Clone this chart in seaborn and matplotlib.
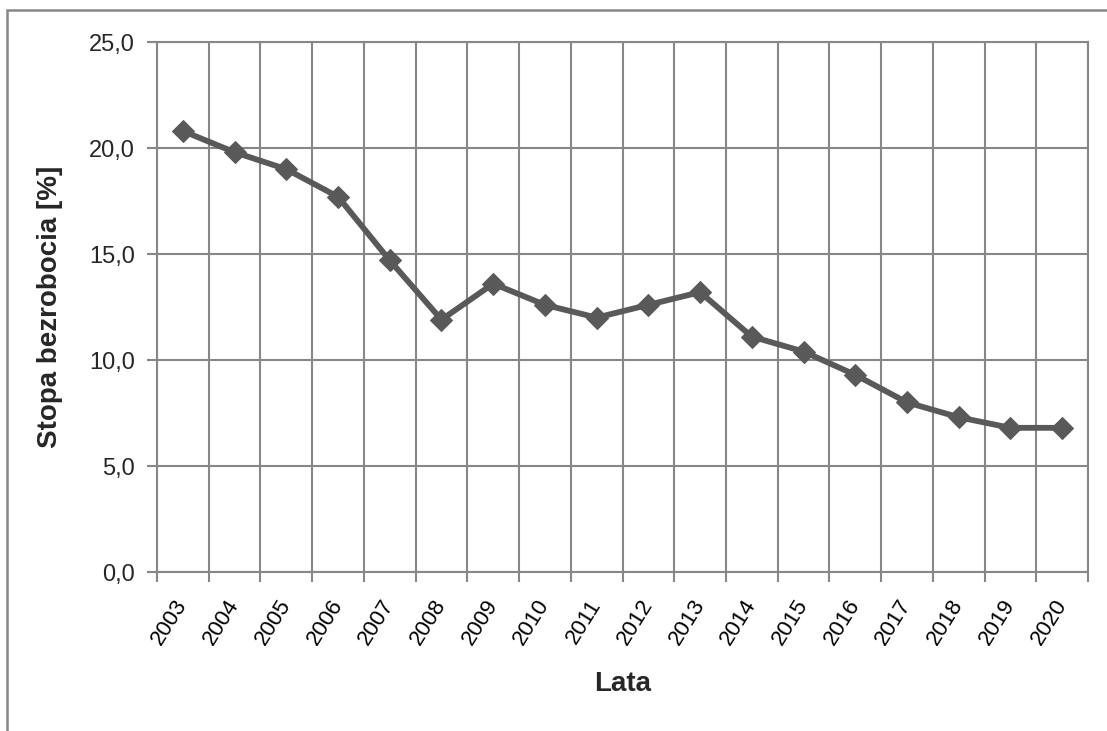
import matplotlib
matplotlib.use("Agg")
import matplotlib.pyplot as plt
from matplotlib.patches import Rectangle
from matplotlib.ticker import FixedLocator, FuncFormatter
from matplotlib.transforms import ScaledTranslation
import seaborn as sns
import pandas as pd
import numpy as np

years = ['2003', '2004', '2005', '2006', '2007', '2008', '2009', '2010', '2011',
         '2012', '2013', '2014', '2015', '2016', '2017', '2018', '2019', '2020']
rate = [20.8, 19.8, 19.0, 17.7, 14.7, 11.9, 13.6, 12.6, 12.0,
        12.6, 13.2, 11.1, 10.4, 9.3, 8.0, 7.3, 6.8, 6.8]

sns.set_theme(style="white")
plt.rcParams['font.family'] = ['Liberation Sans', 'DejaVu Sans']

grid_col = '#878787'
line_col = '#595959'

df = pd.DataFrame({'pos': np.arange(len(years)), 'Rok': years, 'Stopa': rate})

fig = plt.figure(figsize=(11.07, 7.31), dpi=100)
ax = fig.add_axes([157 / 1107, 1 - 572 / 731, (1088 - 157) / 1107, (572 - 42) / 731])

sns.lineplot(data=df, x='pos', y='Stopa', ax=ax, color=line_col, linewidth=4.2,
             marker='D', markersize=11, markeredgecolor=line_col, zorder=3)

ax.set_xlim(-0.5, len(years) - 0.5)
ax.set_ylim(0, 25)
ax.set_yticks([0, 5, 10, 15, 20, 25])
ax.yaxis.set_major_formatter(FuncFormatter(lambda v, p: f'{v:.1f}'.replace('.', ',')))

ax.set_xticks(df.pos)
ax.set_xticklabels(years, rotation=58, ha='right', va='center', rotation_mode='anchor')
ax.xaxis.set_minor_locator(FixedLocator(np.arange(-0.5, len(years), 1.0)))
# shift year labels slightly right, like Excel places them
shift = ScaledTranslation(0.08, 0, fig.dpi_scale_trans)
for lab in ax.get_xticklabels():
    lab.set_transform(lab.get_transform() + shift)

ax.grid(True, axis='y', which='major', color=grid_col, linewidth=1.5)
ax.grid(True, axis='x', which='minor', color=grid_col, linewidth=1.5)
ax.grid(False, axis='x', which='major')

ax.tick_params(axis='x', which='major', length=0, labelsize=16, pad=21, colors='black')
ax.tick_params(axis='x', which='minor', length=7, width=1.5, color=grid_col, direction='out', bottom=True)
ax.tick_params(axis='y', length=7, width=1.5, color=grid_col, direction='out', left=True,
               labelsize=17, pad=9)

for side, sp in ax.spines.items():
    sp.set_color(grid_col)
    sp.set_linewidth(1.5)

ax.set_xlabel('Lata', fontsize=20, fontweight='bold', labelpad=16)
ax.set_ylabel('Stopa bezrobocia [%]', fontsize=20, fontweight='bold', labelpad=19)

# outer chart frame (cut off at right and bottom like the source)
fig.patches.append(Rectangle((7 / 1107, -0.1), 1.2, 1 - 10 / 731 + 0.1,
                             transform=fig.transFigure, fill=False,
                             edgecolor=grid_col, linewidth=1.8))

fig.savefig('out.png', dpi=100)
